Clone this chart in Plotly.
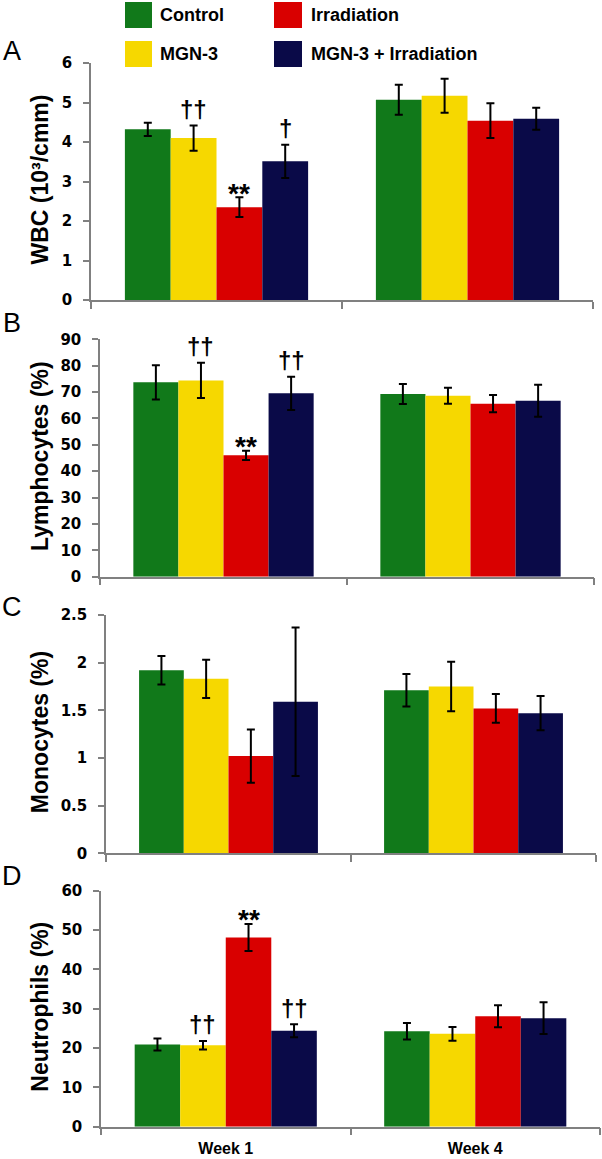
import plotly.graph_objects as go

# ---------------- data ----------------
groups = ["Week 1", "Week 4"]
series_names = ["Control", "MGN-3", "Irradiation", "MGN-3 + Irradiation"]
series_colors = ["#11791a", "#f6d800", "#d90000", "#0a0a48"]

# rows follow series_names, columns follow groups
wbc_means = [[4.32, 5.07], [4.10, 5.17], [2.35, 4.54], [3.51, 4.59]]
wbc_errs = [[0.17, 0.38], [0.32, 0.43], [0.25, 0.44], [0.42, 0.28]]
wbc_marks = [["", ""], ["††", ""], ["**", ""], ["†", ""]]

lym_means = [[73.7, 69.3], [74.4, 68.6], [46.0, 65.6], [69.5, 66.7]]
lym_errs = [[6.5, 3.8], [6.7, 3.0], [1.75, 3.3], [6.3, 6.1]]
lym_marks = [["", ""], ["††", ""], ["**", ""], ["††", ""]]

mono_means = [[1.92, 1.71], [1.83, 1.75], [1.02, 1.52], [1.59, 1.47]]
mono_errs = [[0.15, 0.17], [0.20, 0.26], [0.28, 0.15], [0.78, 0.18]]
mono_marks = [["", ""], ["", ""], ["", ""], ["", ""]]

neu_means = [[20.9, 24.25], [20.7, 23.6], [48.1, 28.1], [24.4, 27.6]]
neu_errs = [[1.5, 2.1], [1.1, 1.75], [3.45, 2.8], [1.65, 4.05]]
neu_marks = [["", ""], ["††", ""], ["**", ""], ["††", ""]]

panel_letters = ["A", "B", "C", "D"]
panel_titles = ["WBC (10³/cmm)", "Lymphocytes (%)", "Monocytes (%)", "Neutrophils (%)"]
panel_ymax = [6, 90, 2.5, 60]
panel_dtick = [1, 10, 0.5, 10]

# ---------------- layout geometry (pixels) ----------------
W, H = 602, 1159
x_px = [(91, 593), (100, 594), (106, 596), (101, 600)]
y_px = [(63, 300), (339.3, 576.7), (615, 853.3), (890.7, 1126.7)]
bargap = 0.27

def px_x(v):
    return v / W

def px_y(v):
    return 1 - v / H

means_all = [wbc_means, lym_means, mono_means, neu_means]
errs_all = [wbc_errs, lym_errs, mono_errs, neu_errs]
marks_all = [wbc_marks, lym_marks, mono_marks, neu_marks]

fig = go.Figure()
annotations = []
shapes = []
bar_w = (1 - bargap) / len(series_names)
axis_grey = "#808080"

for p in range(4):
    ax = "" if p == 0 else str(p + 1)
    for s, name in enumerate(series_names):
        fig.add_trace(go.Bar(
            x=groups, y=means_all[p][s], name=name,
            marker=dict(color=series_colors[s], line=dict(width=0)),
            error_y=dict(type="data", array=errs_all[p][s], color="black",
                         thickness=2, width=4),
            showlegend=False, xaxis="x" + ax, yaxis="y" + ax,
        ))
        for g in range(len(groups)):
            mk = marks_all[p][s][g]
            if mk:
                top = means_all[p][s][g] + errs_all[p][s][g]
                is_star = "*" in mk
                annotations.append(dict(
                    x=g + (s - 1.5) * bar_w, y=top, xref="x" + ax, yref="y" + ax,
                    text=mk, showarrow=False, yanchor="middle",
                    yshift=4 if is_star else 16,
                    font=dict(family="Liberation Sans, Arial", size=28 if is_star else 24,
                              color="black", weight="bold"),
                ))
    x0, x1 = x_px[p]
    y0, y1 = y_px[p]
    fig.layout["xaxis" + ax] = dict(
        domain=[px_x(x0), px_x(x1)], anchor="y" + ax, type="category",
        showline=True, linecolor=axis_grey, linewidth=1.5,
        ticks="outside", tickson="boundaries", ticklen=7, tickcolor=axis_grey, tickwidth=1.5,
        showticklabels=(p == 3), ticklabelstandoff=6, automargin=False,
        tickfont=dict(family="Liberation Sans, Arial", size=16, color="black", weight="bold"),
        showgrid=False, zeroline=False, fixedrange=True,
    )
    fig.layout["yaxis" + ax] = dict(
        domain=[px_y(y1), px_y(y0)], anchor="x" + ax,
        range=[0, panel_ymax[p]], dtick=panel_dtick[p], tick0=0,
        showline=True, linecolor=axis_grey, linewidth=1.5,
        ticks="outside", ticklen=6, tickcolor=axis_grey, tickwidth=1.5,
        ticklabelstandoff=8, automargin=False,
        tickfont=dict(family="DejaVu Sans", size=15, color="black", weight="bold"),
        showgrid=False, zeroline=False, fixedrange=True,
    )
    # y-axis title
    annotations.append(dict(
        x=px_x(40), y=px_y((y0 + y1) / 2 - 2), xref="paper", yref="paper",
        text=panel_titles[p], textangle=-90, showarrow=False,
        xanchor="center", yanchor="middle",
        font=dict(family="Liberation Sans, Arial", size=23, color="black", weight="bold"),
    ))
    # panel letter
    letter_y = [51, 323, 607, 876][p]
    annotations.append(dict(
        x=px_x(12), y=px_y(letter_y), xref="paper", yref="paper",
        text=panel_letters[p], showarrow=False, xanchor="center", yanchor="middle",
        font=dict(family="Liberation Sans, Arial", size=27, color="black"),
    ))

# ---------------- legend (2 x 2) ----------------
leg_cols = [(125, 152, 158), (274, 302, 309)]
leg_rows = [(2, 28), (41, 67)]
leg_pos = [(0, 0), (1, 0), (0, 1), (1, 1)]  # (row, col) for each series
for s, name in enumerate(series_names):
    r, c = leg_pos[s]
    sx0, sx1, tx = leg_cols[c]
    sy0, sy1 = leg_rows[r]
    shapes.append(dict(type="rect", xref="paper", yref="paper",
                       x0=px_x(sx0), x1=px_x(sx1), y0=px_y(sy1), y1=px_y(sy0),
                       fillcolor=series_colors[s], line=dict(width=0)))
    annotations.append(dict(
        x=px_x(tx), y=px_y((sy0 + sy1) / 2), xref="paper", yref="paper",
        text=name, showarrow=False, xanchor="left", yanchor="middle",
        font=dict(family="Liberation Sans, Arial", size=18, color="black", weight="bold"),
    ))

fig.update_layout(
    width=W, height=H, margin=dict(l=0, r=0, t=0, b=0, pad=0, autoexpand=False),
    barmode="group", bargap=bargap, bargroupgap=0,
    plot_bgcolor="white", paper_bgcolor="white",
    annotations=annotations, shapes=shapes, showlegend=False,
)

fig.write_html(
    "out.html",
    config={"displayModeBar": False},
    post_script="document.body.style.margin='0';document.body.style.overflow='hidden';",
)
